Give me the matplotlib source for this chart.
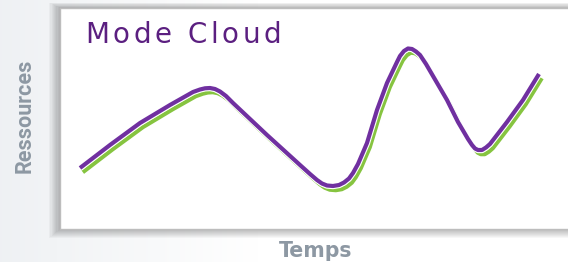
import matplotlib
matplotlib.use("Agg")
import matplotlib.pyplot as plt
import matplotlib.patheffects as pe
import matplotlib.transforms as mtransforms
import numpy as np
from matplotlib.patches import Rectangle

# ---- data ----
temps = [20, 50, 80, 110, 133, 140, 145, 150, 155, 160, 166, 173, 207, 240, 250,
         257, 262, 267, 273, 279, 284, 289, 293, 298, 307, 317, 327, 337, 340,
         344, 348, 352, 356, 360, 366, 373, 387, 398, 408, 412, 415, 418, 422,
         426, 430, 447, 463, 479]
ressources = [61, 84, 106, 124, 137, 139.5, 140.7, 141, 140, 137.5, 133, 126, 94, 64, 55,
              49, 45.5, 43.5, 43, 44, 46.5, 50.5, 56, 65, 86, 119, 146, 167, 173,
              178, 180.5, 180, 177.5, 174, 165, 153, 129, 107, 90, 84, 80.5, 79, 79,
              81.5, 85, 107, 129, 155]
title = "Mode Cloud"
xlabel = "Temps"
ylabel = "Ressources"

W, H = 568, 262
fig = plt.figure(figsize=(W / 100, H / 100), dpi=100)
fig.patch.set_facecolor("white")

# background layer in pixel coordinates
bg = fig.add_axes([0, 0, 1, 1], zorder=0)
bg.set_xlim(0, W)
bg.set_ylim(H, 0)
bg.axis("off")
g = np.linspace(0, 1, 300)
g = np.clip(g * 2.2, 0, 1)
c0 = np.array([0.935, 0.945, 0.955])
c1 = np.array([1.0, 1.0, 1.0])
img = (c0[None, :] * (1 - g[:, None]) + c1[None, :] * g[:, None])[None, :, :]
img = np.repeat(img, 2, axis=0)
bg.imshow(img, extent=(0, W, H, 0), aspect="auto", zorder=0)

# panel shadow
px0, py0, py1 = 60, 8, 229
for i in range(9, 0, -1):
    bg.add_patch(Rectangle((px0 - i * 1.2, py0 - i * 0.6), W, (py1 - py0) + i * 1.6,
                           facecolor="black", edgecolor="none", alpha=0.03, zorder=1))

ax = fig.add_axes([px0 / W, (H - py1) / H, (W - px0) / W, (py1 - py0) / H], zorder=2)
ax.set_facecolor("white")
ax.set_xlim(0, W - px0)
ax.set_ylim(0, py1 - py0)
ax.set_xticks([])
ax.set_yticks([])
for s in ["left", "bottom", "top"]:
    ax.spines[s].set_color("#bdbdbd")
    ax.spines[s].set_linewidth(1.0)
ax.spines["right"].set_visible(False)

purple = "#7030a0"
green = "#86c440"
lw = 3.0

off = mtransforms.ScaledTranslation(2.8 / 100, -4.2 / 100, fig.dpi_scale_trans)
ax.plot(temps, ressources, color=green, lw=lw, solid_joinstyle="round",
        solid_capstyle="butt", transform=ax.transData + off, zorder=3)
ax.plot(temps, ressources, color=purple, lw=lw, solid_joinstyle="round",
        solid_capstyle="butt", zorder=4,
        path_effects=[pe.Stroke(linewidth=lw + 1.6, foreground="white"), pe.Normal()])

renderer = fig.canvas.get_renderer()


def tracked_text(x_left, y_px, s, total_w, **kw):
    """Place the characters of s one by one so that the word spans total_w px."""
    def width(txt):
        t = fig.text(0, 0, txt, **kw)
        w = t.get_window_extent(renderer).width
        t.remove()
        return w
    advs = []
    for ch in s:
        if ch == " ":
            advs.append(width("n n") - width("nn"))
        else:
            advs.append(width(ch))
    natural = sum(advs)
    track = (total_w - natural) / max(len(s) - 1, 1)
    x = x_left
    for ch, a in zip(s, advs):
        if ch != " ":
            fig.text(x / W, 1 - y_px / H, ch, ha="left", va="baseline", **kw)
        x += a + track


tracked_text(85, 43, title, 196, fontsize=20, color="#5b1f80",
             family=["DejaVu Sans"])
fig.text(25 / W, 1 - 116 / H, ylabel, rotation=90, ha="center", va="center",
         fontsize=15.5, fontweight="bold", color="#8d98a3", family=["Roboto", "DejaVu Sans"])
fig.text(316 / W, 1 - 257 / H, xlabel, ha="center", va="baseline",
         fontsize=14.8, fontweight="bold", color="#8d98a3", family=["DejaVu Sans"])

fig.savefig("out.png", dpi=100)
